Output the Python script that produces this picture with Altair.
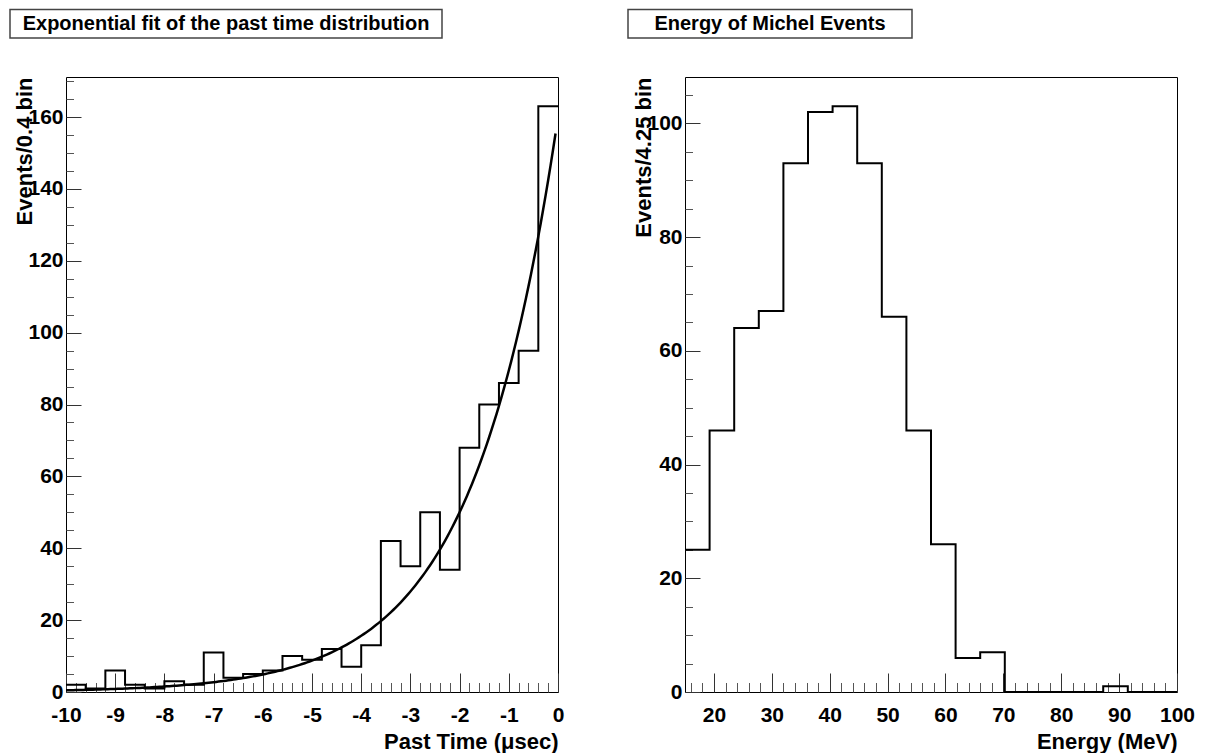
import altair as alt
import pandas as pd

# ---------------- data ----------------
time_bin_low = -10.0
time_bin_width = 0.4
time_counts = [2, 1, 6, 2, 1, 3, 2, 11, 4, 5, 6, 10, 9, 12, 7, 13,
               42, 35, 50, 34, 68, 80, 86, 95, 163]
fit_amplitude = 160.0
fit_tau = 1.72
fit_range = [-10.0, -0.05]

energy_bin_low = 15.0
energy_bin_width = 4.25
energy_counts = [25, 46, 64, 67, 93, 102, 103, 93, 66, 46, 26, 6, 7,
                 0, 0, 0, 0, 1, 0, 0]

time_ticks = [-10, -9, -8, -7, -6, -5, -4, -3, -2, -1, 0]
left_count_ticks = [0, 20, 40, 60, 80, 100, 120, 140, 160]
energy_ticks = [20, 30, 40, 50, 60, 70, 80, 90, 100]
right_count_ticks = [0, 20, 40, 60, 80, 100]

left_title = "Exponential fit of the past time distribution"
right_title = "Energy of Michel Events"
left_xlabel = "Past Time (\u03bcsec)"
right_xlabel = "Energy (MeV)"
left_ylabel = "Events/0.4 bin"
right_ylabel = "Events/4.25 bin"

# ---------------- style ----------------
FONT = "Liberation Sans"
W, H = 492, 615
XT, XM = 19, 9.5     # x tick lengths (major, minor)
YT, YM = 15, 7.5     # y tick lengths (major, minor)


def minor_values(lo, hi, step, majors):
    out = []
    n = int(round((hi - lo) / step))
    for i in range(n + 1):
        v = round(lo + i * step, 6)
        if all(abs(v - m) > 1e-9 for m in majors):
            out.append(v)
    return out


def panel(counts, low, width, xdom, xticks, xminor, yticks, yminor,
          title, xlabel, ylabel, box_x, fit=None):
    n = len(counts)
    edges = [low + width * i for i in range(n + 1)]
    df = pd.DataFrame({"edge": edges, "count": counts + [counts[-1]]})
    ymax = max(counts) * 1.05
    xs = alt.Scale(domain=xdom, nice=False, zero=False)
    ys = alt.Scale(domain=[0, ymax], nice=False, zero=False)

    lab = dict(labelFont=FONT, labelFontSize=21, labelFontWeight="bold",
               labelColor="black", labelOverlap=False, labelFlush=False,
               labelExpr="toString(datum.value)")
    ttl = dict(titleFont=FONT, titleFontSize=22, titleFontWeight="bold",
               titleColor="black")

    x_major = alt.Axis(orient="bottom", values=xticks, offset=-XT, tickSize=XT,
                       tickColor="#333", tickWidth=1, domain=False, grid=False,
                       labelPadding=12, title=xlabel, titleAlign="right",
                       titleX=W, titleY=75, titleBaseline="alphabetic",
                       **lab, **ttl)
    y_major = alt.Axis(orient="left", values=yticks, offset=-YT, tickSize=YT,
                       tickColor="#333", tickWidth=1, domain=False, grid=False,
                       labelPadding=3, labelBaseline="middle",
                       title=ylabel, titleAngle=270, titleAlign="right",
                       titleBaseline="middle", titleX=-42 - YT, titleY=0,
                       **lab, **ttl)
    x_minor = alt.Axis(orient="bottom", values=xminor, offset=-XM, tickSize=XM,
                       tickColor="#555", tickWidth=1, domain=False, grid=False,
                       labels=False, title=None)
    y_minor = alt.Axis(orient="left", values=yminor, offset=-YM, tickSize=YM,
                       tickColor="#555", tickWidth=1, domain=False, grid=False,
                       labels=False, title=None)

    minor_layer = alt.Chart(df).mark_line(strokeOpacity=0).encode(
        x=alt.X("edge:Q", scale=xs, axis=x_minor),
        y=alt.Y("count:Q", scale=ys, axis=y_minor),
    )
    hist = alt.Chart(df).mark_line(interpolate="step-after", color="black",
                                   strokeWidth=2).encode(
        x=alt.X("edge:Q", scale=xs, axis=x_major),
        y=alt.Y("count:Q", scale=ys, axis=y_major),
    )

    box_df = pd.DataFrame({"label": [title]})
    box = alt.Chart(box_df).mark_rect(fill="white", stroke="#444",
                                      strokeWidth=1.5).encode(
        x=alt.value(box_x[0]), x2=alt.value(box_x[1]),
        y=alt.value(-67.5), y2=alt.value(-39),
    )
    box_text = alt.Chart(box_df).mark_text(font=FONT, fontSize=20,
                                           fontWeight="bold", color="black",
                                           align="center",
                                           baseline="middle").encode(
        x=alt.value((box_x[0] + box_x[1]) / 2), y=alt.value(-53),
        text="label:N",
    )

    layers = [box, box_text, minor_layer, hist]
    if fit is not None:
        amp, tau, rng = fit
        fit_line = alt.Chart(alt.sequence(rng[0], rng[1] + 0.001, 0.05, as_="t")
                             ).transform_calculate(
            f=f"{amp}*exp(datum.t/{tau})"
        ).mark_line(color="black", strokeWidth=2.5).encode(
            x=alt.X("t:Q", scale=xs, axis=None),
            y=alt.Y("f:Q", scale=ys, axis=None),
        )
        layers.append(fit_line)

    return alt.layer(*layers).resolve_axis(
        x="independent", y="independent"
    ).properties(width=W, height=H)


left = panel(time_counts, time_bin_low, time_bin_width, [-10, 0],
             time_ticks, minor_values(-10, 0, 0.2, time_ticks),
             left_count_ticks, minor_values(0, 170, 5, left_count_ticks),
             left_title, left_xlabel, left_ylabel, (-56, 376),
             fit=(fit_amplitude, fit_tau, fit_range))

right = panel(energy_counts, energy_bin_low, energy_bin_width, [15, 100],
              energy_ticks, minor_values(16, 100, 2, energy_ticks),
              right_count_ticks, minor_values(0, 105, 5, right_count_ticks),
              right_title, right_xlabel, right_ylabel, (-57, 227))

chart = alt.hconcat(left, right, spacing=61).properties(
    padding=0, background="white"
).configure_view(stroke="black", strokeWidth=1)

chart.save("out.html", embed_options={"renderer": "svg", "actions": False})
